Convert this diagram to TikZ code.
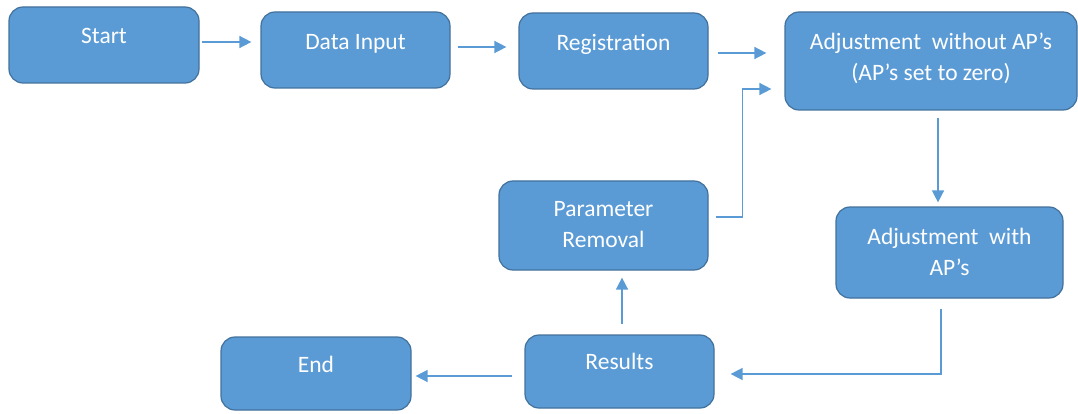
\documentclass[tikz,border=0pt]{standalone}
\usepackage{fontspec}
\setmainfont{Carlito}
\usetikzlibrary{arrows.meta,calc}
\definecolor{boxfill}{HTML}{5B9BD5}
\definecolor{boxdraw}{HTML}{41719C}
\definecolor{arrowc}{HTML}{5B9BD5}
\begin{document}
\begin{tikzpicture}[x=1pt,y=-1pt,
  box/.style={draw=boxdraw, fill=boxfill, line width=1.2pt, rounded corners=14pt, inner sep=0pt},
  txt/.style={text=white, font=\fontsize{23.5}{31}\selectfont, align=center, inner sep=0pt},
  conn/.style={draw=arrowc, line width=1.5pt, -{Triangle[length=12pt,width=12pt]}}
]
\useasboundingbox (0,0) rectangle (1078,414);
% boxes
\node[box, minimum width=190pt, minimum height=76pt] (start) at (104,45) {};
\node[box, minimum width=189pt, minimum height=76pt] (datain) at (355.5,50) {};
\node[box, minimum width=189pt, minimum height=76pt] (reg) at (613.5,51) {};
\node[box, minimum width=292pt, minimum height=98pt] (adjwo) at (931,61) {};
\node[box, minimum width=227pt, minimum height=91pt] (adjw) at (949.5,252.5) {};
\node[box, minimum width=209pt, minimum height=89pt] (param) at (603.5,225.5) {};
\node[box, minimum width=189pt, minimum height=73pt] (results) at (619.5,371.5) {};
\node[box, minimum width=190pt, minimum height=73pt] (end) at (316,373.5) {};
% texts
\node[txt, anchor=base] (tstart) at ($(start.north)+(0,37)$) {Start};
\node[txt, anchor=base] (tdatain) at ($(datain.north)+(0,38)$) {Data Input};
\node[txt, anchor=base] (treg) at ($(reg.north)+(0,38)$) {Registration};
\node[txt] (tadjwo) at ($(adjwo.center)+(0,-3)$) {Adjustment\ \ without AP’s\\(AP’s set to zero)};
\node[txt] (tadjw) at ($(adjw.center)+(0,-1)$) {Adjustment\ \ with\\AP’s};
\node[txt] (tparam) at ($(param.center)+(0,-1)$) {Parameter\\Removal};
\node[txt, anchor=base] (tresults) at ($(results.north)+(0,35)$) {Results};
\node[txt, anchor=base] (tend) at ($(end.north)+(0,36)$) {End};
% connectors
\draw[conn] ($(start.east)+(2,-3)$) -- ($(datain.west)+(-9,-8)$);
\draw[conn] ($(datain.east)+(7,-3)$) -- ($(reg.west)+(-12,-4)$);
\draw[conn] ($(reg.east)+(9,2)$) -- ($(adjwo.west)+(-18,-8)$);
\draw[conn] ($(adjwo.south)+(7,7)$) -- ($(adjw.north)+(-11.5,-4)$);
\draw[conn] ($(adjw.south)+(-8.5,10)$) |- ($(results.east)+(16,2.5)$);
\draw[conn] ($(results.north)+(2.5,-10)$) -- ($(param.south)+(18.5,7)$);
\draw[conn] ($(param.east)+(7,-8.5)$) -| ($(adjwo.west)+(-42,28)$) -- ($(adjwo.west)+(-13,28)$);
\draw[conn] ($(results.west)+(-12,4.5)$) -- ($(end.east)+(4,2.5)$);
\end{tikzpicture}
\end{document}
